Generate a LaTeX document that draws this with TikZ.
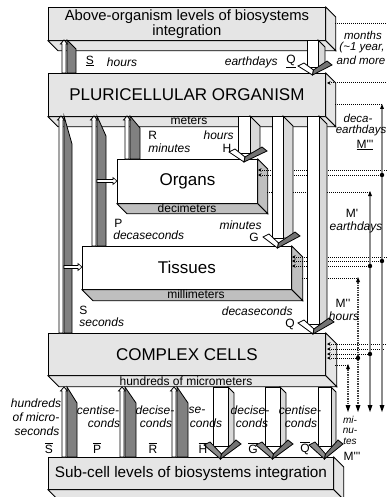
\documentclass[tikz,border=0pt]{standalone}
\usepackage{fontspec}
\setmainfont{Liberation Sans}
\usetikzlibrary{arrows.meta}
\newcommand{\qs}{\textquotesingle}
\newcommand{\ovl}[1]{$\overline{\mbox{#1}}$}
% 3D sides of a box node: name, depth, right-face fill, bottom-face fill
\newcommand{\boxsides}[4]{%
 \filldraw[fill=#3] (#1.north east) -- ([shift={(#2,#2)}]#1.north east) -- ([shift={(#2,#2)}]#1.south east) -- (#1.south east) -- cycle;
 \filldraw[fill=#4] (#1.south west) -- ([shift={(#2,#2)}]#1.south west) -- ([shift={(#2,#2)}]#1.south east) -- (#1.south east) -- cycle;}
% upward ribbon arrow: white x, tip y, bottom y, dark x, dark width, slant
\newcommand{\uparr}[6]{%
 \filldraw[fill=black!50] (#4,#2) -- (#4+#5,#2+#6) -- (#4+#5,#3) -- (#4,#3) -- cycle;
 \filldraw[fill=white] (#1,#3) -- (#1,#2+4) -- (#1-1.5,#2+4) -- (#1+2,#2) -- (#1+5.5,#2+4) -- (#1+4,#2+4) -- (#1+4,#3) -- cycle;}
% downward ribbon arrow: x1, x2, grey width, top y, shaft end y, tip y, left flap fill
\newcommand{\dnarr}[7]{%
 \filldraw[fill=black!15] (#2,#4) -- (#2+#3,#4+#3) -- (#2+#3,#5) -- (#2,#5) -- cycle;
 \filldraw[fill=white] (#1,#4) rectangle (#2,#5);
 \filldraw[fill=#7] (#1-9,#5-1) -- (#1-3,#5-4) -- ({(#1+#2)/2+1},#6-5) -- ({(#1+#2)/2},#6) -- cycle;
 \filldraw[fill=black!55] ({(#1+#2)/2},#6) -- ({(#1+#2)/2+1},#6-5) -- (#2+#3+2,#5-6) -- (#2+#3+7,#5-2) -- cycle;}
% small horizontal white arrow: x start, x end, y
\newcommand{\harr}[3]{%
 \filldraw[fill=white,line width=0.6pt] (#1,#3-1.5) -- (#2-4,#3-1.5) -- (#2-4,#3-3.5) -- (#2,#3) -- (#2-4,#3+3.5) -- (#2-4,#3+1.5) -- (#1,#3+1.5) -- cycle;}
\newcommand{\downtip}[1]{\fill (#1-2.5,405) -- (#1+2.5,405) -- (#1,412) -- cycle;}
\newcommand{\uptip}[2]{\fill (#1-2,#2+5) -- (#1+2,#2+5) -- (#1,#2) -- cycle;}
\begin{document}
\begin{tikzpicture}[x=1pt,y=-1pt,line width=0.8pt,
  gbox/.style={draw,inner sep=0pt,anchor=north west,align=center,fill=black!10},
  wbox/.style={draw,inner sep=0pt,anchor=north west,align=center,fill=white},
  ttl/.style={font=\fontsize{17}{19}\selectfont},
  lab/.style={inner sep=0pt,font=\fontsize{12}{12}\selectfont},
  ilab/.style={inner sep=0pt,font=\fontsize{12}{12}\selectfont\itshape},
  rlab/.style={inner sep=0pt,font=\fontsize{11.5}{12}\selectfont\itshape},
  dl/.style={densely dotted,line width=1pt},
  lt/.style={{Stealth[length=3.5pt,width=3.5pt]}-},
  vl/.style={draw=black,double=black!45,double distance=1.4pt,line width=0.6pt},
  vdl/.style={densely dotted,line width=1.4pt,draw=black!75}]
\useasboundingbox (0,0) rectangle (387,497);
\clip (0,0) rectangle (387,497);
% ---------- boxes
\node[gbox,minimum width=277pt,minimum height=33pt,font=\fontsize{14.8}{15}\selectfont] (top) at (48,7) {Above-organism levels of biosystems\\integration};
\boxsides{top}{10}{black!10}{black!10}
\node[gbox,ttl,minimum width=277pt,minimum height=43pt] (pluri) at (48,73) {PLURICELLULAR ORGANISM};
\boxsides{pluri}{10}{black!10}{black!10}
\node[wbox,ttl,minimum width=140pt,minimum height=44pt] (organs) at (117,159) {Organs};
\boxsides{organs}{10}{black!25}{black!25}
\node[wbox,ttl,minimum width=209pt,minimum height=43pt] (tissues) at (82,246) {Tissues};
\boxsides{tissues}{11}{black!25}{black!25}
\node[gbox,ttl,minimum width=277pt,minimum height=42pt] (cells) at (48,333) {COMPLEX CELLS};
\boxsides{cells}{11}{black!10}{black!10}
\node[gbox,minimum width=285pt,minimum height=32pt,font=\fontsize{15.3}{16}\selectfont] (sub) at (48,457) {Sub-cell levels of biosystems integration};
\boxsides{sub}{10}{black!10}{black!10}
% ---------- right-side signal lines
\draw[dl] (335,24) -- (387,24);
\draw[dl,lt] (327,83) -- (387,83);
\draw[dl] (335,105) -- (382,105);
\draw[dl,lt] (258,170) -- (387,170);
\draw[dl,lt] (258,175) -- (382,175);
\draw[dl] (267,192) -- (370,192);
\draw[dl,lt] (292,257) -- (387,257);
\draw[dl,lt] (292,261) -- (382,261);
\draw[dl,lt] (292,266) -- (370,266);
\draw[dl] (302,278) -- (358,278);
\draw[dl,lt] (327,344) -- (387,344);
\draw[dl,lt] (327,349) -- (385,349);
\draw[dl,lt] (327,354) -- (370,354);
\draw[dl,lt] (327,358) -- (358,358);
\draw[dl] (335,365) -- (348,365);
\draw[vdl] (358,280) -- (358,406);
\draw[vdl] (348,367) -- (348,406);
\draw[vl] (370,194) -- (370,406);
\draw[vl] (382,107) -- (382,406);
\uptip{382}{104}\uptip{370}{191}\uptip{358}{277}\uptip{348}{364}
\downtip{382}\downtip{370}\downtip{358}\downtip{348}
\fill (382,175) circle (2.2pt);
\fill (382,261) circle (2.2pt);
\fill (370,266) circle (2.2pt);
\fill (370,354) circle (2.2pt);
\fill (358,358) circle (2.2pt);
% ---------- upward arrows
\uparr{62}{40}{73}{67}{9}{9}
\uparr{59}{116}{333}{64}{8}{28}
\uparr{92}{116}{246}{97}{9}{20}
\uparr{125}{116}{159}{130}{10}{12}
\uparr{62}{387}{457}{67}{10}{16}
\uparr{120}{387}{457}{125}{11}{16}
\uparr{172}{387}{457}{177}{11}{16}
\harr{97}{117}{181}
\harr{64}{82}{267}
% ---------- downward arrows
\dnarr{307}{318}{7}{40}{67}{75}{white}
\dnarr{238}{250}{10}{116}{153}{162}{white}
\dnarr{272}{283}{10}{116}{238}{248}{white}
\dnarr{307}{319}{8}{116}{324}{334}{white}
\dnarr{213}{228}{6}{387}{446}{459}{black!45}
\dnarr{265}{280}{6}{387}{446}{459}{black!45}
\dnarr{318}{331}{5}{387}{446}{459}{black!45}
% ---------- labels
\node[lab] (lS1) at (90,61) {\underline{S}};
\node[ilab] (lS1t) at (122,62) {hours};
\node[ilab,anchor=east] (lQ1t) at (278,62) {earthdays};
\node[lab] (lQ1) at (291,61) {\underline{Q}};
\node[lab] (lmeters) at (189,121) {meters};
\node[lab,anchor=west] (lR) at (148,135) {R};
\node[ilab,anchor=west] (lRt) at (148,148) {minutes};
\node[ilab,anchor=east] (lHt) at (234,135) {hours};
\node[lab] (lH) at (227,148) {H};
\node[lab] (ldeci) at (187,208) {decimeters};
\node[lab,anchor=west] (lP) at (114,223) {P};
\node[ilab,anchor=west] (lPt) at (113,235) {decaseconds};
\node[ilab,anchor=east] (lGt) at (262,225) {minutes};
\node[lab] (lG) at (254,237) {G};
\node[lab] (lmilli) at (196,294) {millimeters};
\node[lab,anchor=west] (lS2) at (79,310) {S};
\node[ilab,anchor=west] (lS2t) at (79,322) {seconds};
\node[ilab,anchor=east] (lQ2t) at (293,311) {decaseconds};
\node[lab] (lQ2) at (290,324) {Q};
\node[lab] (lhund) at (186,381) {hundreds of micrometers};
% bottom labels
\node[ilab] (b1a) at (36,403) {hundreds};
\node[ilab] (b1b) at (36,417) {of micro-};
\node[ilab] (b1c) at (37,431) {seconds};
\node[ilab] (b2a) at (98,410) {centise-};
\node[ilab] (b2b) at (104,423) {conds};
\node[ilab] (b3a) at (155,410) {decise-};
\node[ilab] (b3b) at (156,423) {conds};
\node[ilab] (b4a) at (197,410) {se-};
\node[ilab] (b4b) at (206,423) {conds};
\node[ilab] (b5a) at (250,410) {decise-};
\node[ilab] (b5b) at (252,423) {conds};
\node[ilab] (b6a) at (300,410) {centise-};
\node[ilab] (b6b) at (301,423) {conds};
\node[inner sep=0pt,align=center,font=\fontsize{10}{10.5}\selectfont\itshape] (b7) at (350,430) {mi-\\nu-\\tes};
\node[lab] (bS) at (49,448) {\ovl{S}};
\node[lab] (bP) at (97,448) {\ovl{P}};
\node[lab] (bR) at (153,448) {\ovl{R}};
\node[lab] (bH) at (203,448) {\ovl{H}};
\node[lab] (bG) at (253,448) {\ovl{G}};
\node[lab] (bQ) at (305,448) {\ovl{Q}};
\node[lab] (bM) at (352,456) {M\qs\qs\qs};
% right labels
\node[rlab] (r1a) at (363,35) {months};
\node[rlab] (r1b) at (362,48) {(\textasciitilde1 year,};
\node[rlab] (r1c) at (361,60) {and more};
\node[rlab] (r2a) at (358,118) {deca-};
\node[rlab] (r2b) at (361,131) {earthdays};
\node[lab] (r2c) at (365,145) {\underline{M\qs\qs\qs}};
\node[lab] (r3a) at (352,213) {M\qs};
\node[ilab] (r3b) at (356,227) {earthdays};
\node[lab] (r4a) at (343,303) {M\qs\qs};
\node[ilab] (r4b) at (344,316) {hours};
\end{tikzpicture}
\end{document}
